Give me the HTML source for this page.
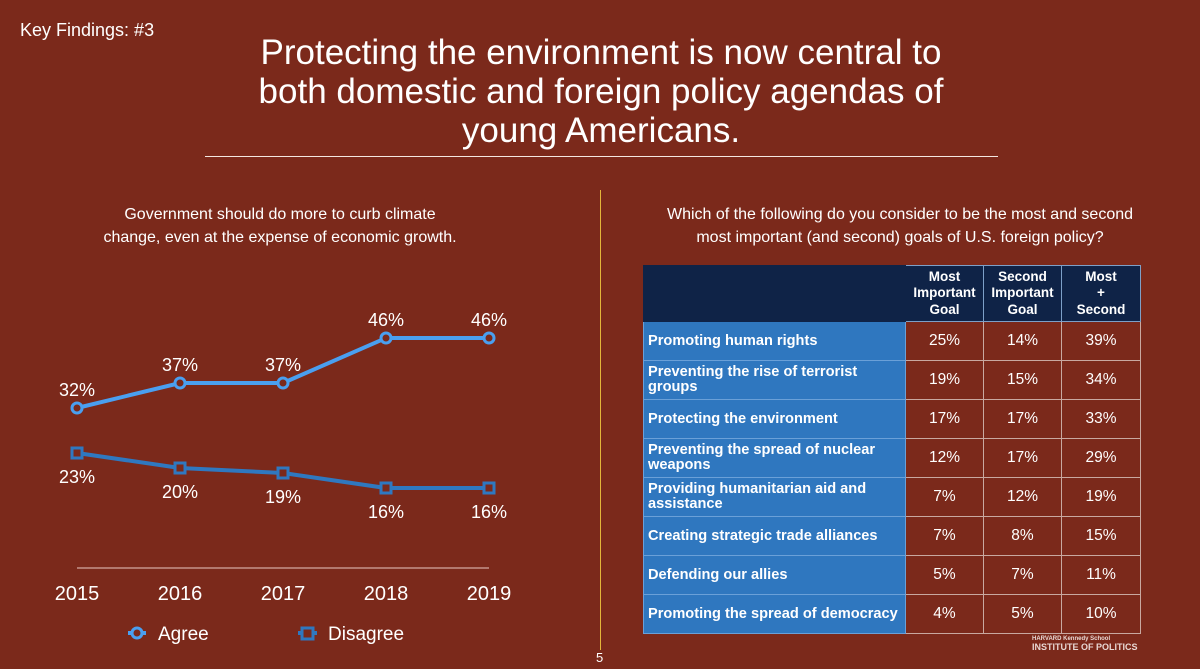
<!DOCTYPE html>
<html><head><meta charset="utf-8"><style>
body{margin:0;width:1200px;height:669px;background:#7b291b;font-family:"Liberation Sans",sans-serif;color:#fff;position:relative;overflow:hidden}
.a{position:absolute}
table{border-collapse:collapse;position:absolute;left:643px;top:265px;table-layout:fixed;width:497px}
td,th{border:1px solid #c9a8a0;padding:0;height:38px;font-size:14.5px}
th{background:#0f2347;font-weight:bold;font-size:13.5px;line-height:16.5px;height:55px;text-align:center;border-color:#7da0c8}
td.l{background:#2f77bf;font-weight:bold;padding-left:4px;text-align:left;line-height:15px;border-color:#6aa0d8;font-size:14.6px;white-space:normal}
td.v{text-align:center;font-size:15.5px}
</style></head><body>
<div class="a" style="left:20px;top:20px;font-size:18px">Key Findings: #3</div>
<div class="a" style="left:150px;width:902px;top:33px;text-align:center;font-size:35px;line-height:39px">Protecting the environment is now central to<br>both domestic and foreign policy agendas of<br>young Americans.</div>
<div class="a" style="left:205px;top:156px;width:793px;height:1px;background:#f3e6e0"></div>
<div class="a" style="left:600px;top:190px;width:1px;height:460px;background:#e3b53a"></div>
<div class="a" style="left:596px;top:650px;font-size:13px">5</div>
<div class="a" style="left:60px;width:440px;top:203px;text-align:center;font-size:16px;line-height:23px">Government should do more to curb climate<br>change, even at the expense of economic growth.</div>
<div class="a" style="left:610px;width:580px;top:203px;text-align:center;font-size:16px;line-height:23px">Which of the following do you consider to be the most and second<br>most important (and second) goals of U.S. foreign policy?</div>
<svg class="a" id="chart" style="left:0;top:0" width="600" height="669"></svg>
<table>
<colgroup><col style="width:262px"><col style="width:78px"><col style="width:78px"><col style="width:79px"></colgroup>
<tr><th style="background:#0f2347;border-color:#0f2347"></th><th>Most<br>Important<br>Goal</th><th>Second<br>Important<br>Goal</th><th>Most<br>+<br>Second</th></tr>
<tr><td class="l">Promoting human rights</td><td class="v">25%</td><td class="v">14%</td><td class="v">39%</td></tr>
<tr><td class="l">Preventing the rise of terrorist groups</td><td class="v">19%</td><td class="v">15%</td><td class="v">34%</td></tr>
<tr><td class="l">Protecting the environment</td><td class="v">17%</td><td class="v">17%</td><td class="v">33%</td></tr>
<tr><td class="l">Preventing the spread of nuclear weapons</td><td class="v">12%</td><td class="v">17%</td><td class="v">29%</td></tr>
<tr><td class="l">Providing humanitarian aid and assistance</td><td class="v">7%</td><td class="v">12%</td><td class="v">19%</td></tr>
<tr><td class="l">Creating strategic trade alliances</td><td class="v">7%</td><td class="v">8%</td><td class="v">15%</td></tr>
<tr><td class="l">Defending our allies</td><td class="v">5%</td><td class="v">7%</td><td class="v">11%</td></tr>
<tr><td class="l" style="white-space:nowrap">Promoting the spread of democracy</td><td class="v">4%</td><td class="v">5%</td><td class="v">10%</td></tr>
</table>
<div class="a" style="left:1032px;top:636px;font-size:6px;font-weight:bold;color:#e8d8d4">HARVARD Kennedy School<div style="font-size:9px">INSTITUTE OF POLITICS</div></div>
<script>
const years=["2015","2016","2017","2018","2019"];
const agree=[32,37,37,46,46];
const disagree=[23,20,19,16,16];
const svg=document.getElementById('chart');
const NS="http://www.w3.org/2000/svg";
const x=i=>77+i*103;
const y=v=>568-5*v;
function mk(t,a){const e=document.createElementNS(NS,t);for(const k in a)e.setAttribute(k,a[k]);svg.appendChild(e);return e;}
const ax=mk('line',{x1:77,x2:489,y1:568,y2:568,stroke:'#e8c8c0','stroke-width':1});


years.forEach((yr,i)=>{const t=mk('text',{x:x(i),y:600,'text-anchor':'middle','font-size':20,fill:'#fff'});t.textContent=yr;

});
function series(vals,color,sq,name,below){
 const l=mk('polyline',{points:vals.map((v,i)=>x(i)+','+y(v)).join(' '),fill:'none',stroke:color,'stroke-width':4});
 
 
 vals.forEach((v,i)=>{let m;
  if(sq)m=mk('rect',{x:x(i)-5,y:y(v)-5,width:10,height:10,fill:'#7b291b',stroke:color,'stroke-width':3});
  else m=mk('circle',{cx:x(i),cy:y(v),r:5,fill:'#7b291b',stroke:color,'stroke-width':3});
  
  
  const t=mk('text',{x:x(i),y:below?y(v)+30:y(v)-12,'text-anchor':'middle','font-size':18,fill:'#fff'});t.textContent=v+'%';
  
  });
}
series(agree,'#4a9ff0',false,'agree',false);
series(disagree,'#2f78c0',true,'disagree',true);
const l1=mk('line',{x1:128,x2:146,y1:633,y2:633,stroke:'#4a9ff0','stroke-width':4});


const c=mk('circle',{cx:137,cy:633,r:5,fill:'#7b291b',stroke:'#4a9ff0','stroke-width':3});


const t1=mk('text',{x:158,y:640,'font-size':19,fill:'#fff'});t1.textContent='Agree';


const l2=mk('line',{x1:298,x2:317,y1:633,y2:633,stroke:'#2f78c0','stroke-width':4});


const r=mk('rect',{x:302,y:628,width:11,height:11,fill:'#7b291b',stroke:'#2f78c0','stroke-width':3});


const t2=mk('text',{x:328,y:640,'font-size':19,fill:'#fff'});t2.textContent='Disagree';


</script>
</body></html>
